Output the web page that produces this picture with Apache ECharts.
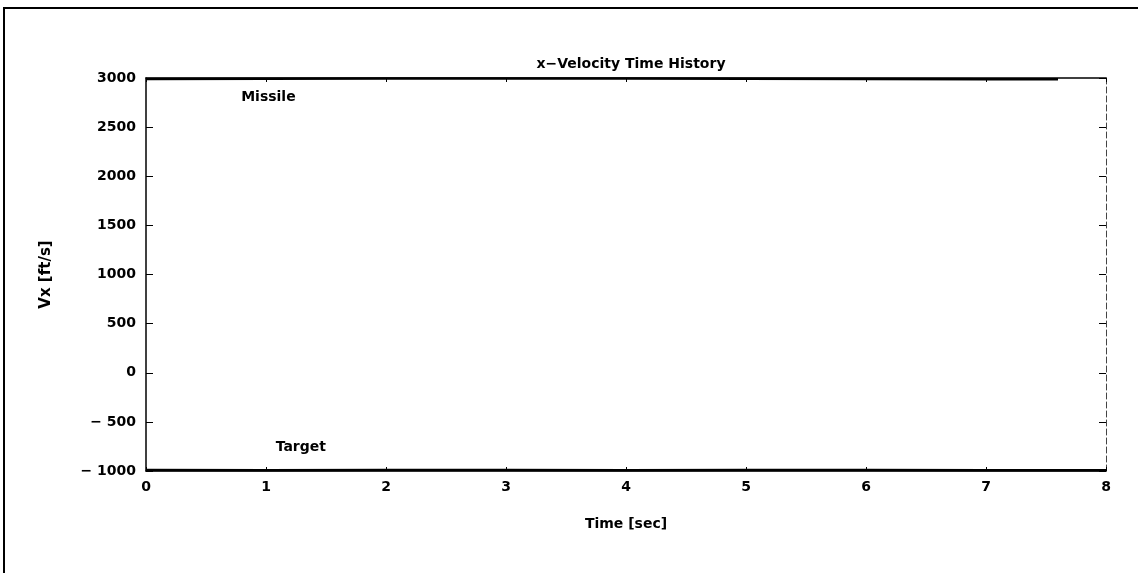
<!DOCTYPE html>
<html>
<head>
<meta charset="utf-8">
<script src="https://cdn.jsdelivr.net/npm/echarts@6/dist/echarts.min.js"></script>
<style>
  html, body { margin: 0; padding: 0; background: #fff; }
  #chart { width: 1138px; height: 573px; }
</style>
</head>
<body>
<div id="chart"></div>
<script>
// time in seconds, vx in ft/s (both curves hug the frame)
let missileTime = [0, 1, 2, 3, 4, 5, 6, 7, 7.6]
let missileVx = [2990, 2993, 2995, 2996, 2994, 2992, 2990, 2988, 2987]
let targetTime = [0, 1, 2, 3, 4, 5, 6, 7, 8]
let targetVx = [-991, -992, -990, -991, -992, -991, -990, -992, -993]
let yTicks = [-1000, -500, 0, 500, 1000, 1500, 2000, 2500, 3000]
let xTicks = [0, 1, 2, 3, 4, 5, 6, 7, 8]
let curveLabels = [
  { name: 'Missile', t: 1.02, v: 2805 },
  { name: 'Target', t: 1.29, v: -760 }
]

var myChart = echarts.init(document.getElementById('chart'))
const font = 'DejaVu Sans'

function pairs(xs, ys) {
  return xs.map((x, i) => [x, ys[i]])
}

let option = {
  animation: false,
  backgroundColor: '#fff',
  title: {
    text: 'x\u2212Velocity Time History',
    left: 626,
    top: 52,
    textAlign: 'center',
    textStyle: { fontFamily: font, fontSize: 14, fontWeight: 'bold', color: '#000' }
  },
  graphic: [
    {
      type: 'rect',
      shape: { x: 4, y: 8, width: 1140, height: 580 },
      style: { fill: 'none', stroke: '#000', lineWidth: 2 },
      silent: true
    }
  ],
  grid: { left: 146, right: 32, top: 78, bottom: 102 },
  xAxis: [
    {
      type: 'value', min: 0, max: 8, interval: 1,
      name: 'Time [sec]', nameLocation: 'middle', nameGap: 46,
      nameTextStyle: { fontFamily: font, fontSize: 14, fontWeight: 'bold', color: '#000' },
      axisLine: { show: true, onZero: false, lineStyle: { color: '#000', width: 1.5 } },
      axisTick: { inside: true, length: 4, lineStyle: { color: '#000' } },
      axisLabel: { fontFamily: font, fontSize: 14, fontWeight: 'bold', color: '#000', margin: 9,
        formatter: v => xTicks.includes(v) ? String(v) : '' },
      splitLine: { show: false }
    },
    {
      type: 'value', min: 0, max: 8, interval: 1, position: 'top',
      axisLine: { show: true, onZero: false, lineStyle: { color: '#000', width: 1.5 } },
      axisTick: { inside: true, length: 4, lineStyle: { color: '#000' } },
      axisLabel: { show: false },
      splitLine: { show: false }
    }
  ],
  yAxis: [
    {
      type: 'value', min: -1000, max: 3000, interval: 500,
      name: 'Vx [ft/s]', nameLocation: 'middle', nameGap: 92, nameRotate: 90,
      nameTextStyle: { fontFamily: font, fontSize: 15, fontWeight: 'bold', color: '#000' },
      axisLine: { show: true, onZero: false, lineStyle: { color: '#000', width: 1.5 } },
      axisTick: { show: true, inside: true, length: 7, lineStyle: { color: '#000' } },
      axisLabel: { fontFamily: font, fontSize: 14, fontWeight: 'bold', color: '#000', margin: 10,
        formatter: v => yTicks.includes(v) ? String(v).replace('-', '\u2212 ') : '' },
      splitLine: { show: false }
    },
    {
      type: 'value', min: -1000, max: 3000, interval: 500, position: 'right',
      axisLine: { show: true, onZero: false, lineStyle: { color: '#444', width: 1, type: [6, 3] } },
      axisTick: { show: true, inside: true, length: 7, lineStyle: { color: '#000' } },
      axisLabel: { show: false },
      splitLine: { show: false }
    }
  ],
  series: [
    {
      name: 'Missile', type: 'line', showSymbol: false,
      data: pairs(missileTime, missileVx),
      lineStyle: { color: '#000', width: 2.5 }
    },
    {
      name: 'Target', type: 'line', showSymbol: false,
      data: pairs(targetTime, targetVx),
      lineStyle: { color: '#000', width: 2.5 }
    },
    {
      name: 'labels', type: 'scatter', symbolSize: 1,
      itemStyle: { opacity: 0 },
      data: curveLabels.map(item => ({ value: [item.t, item.v], name: item.name })),
      label: {
        show: true, position: 'inside', formatter: p => p.name, opacity: 1,
        fontFamily: font, fontSize: 14, fontWeight: 'bold', color: '#000'
      }
    }
  ]
}

myChart.setOption(option)
</script>
</body>
</html>
